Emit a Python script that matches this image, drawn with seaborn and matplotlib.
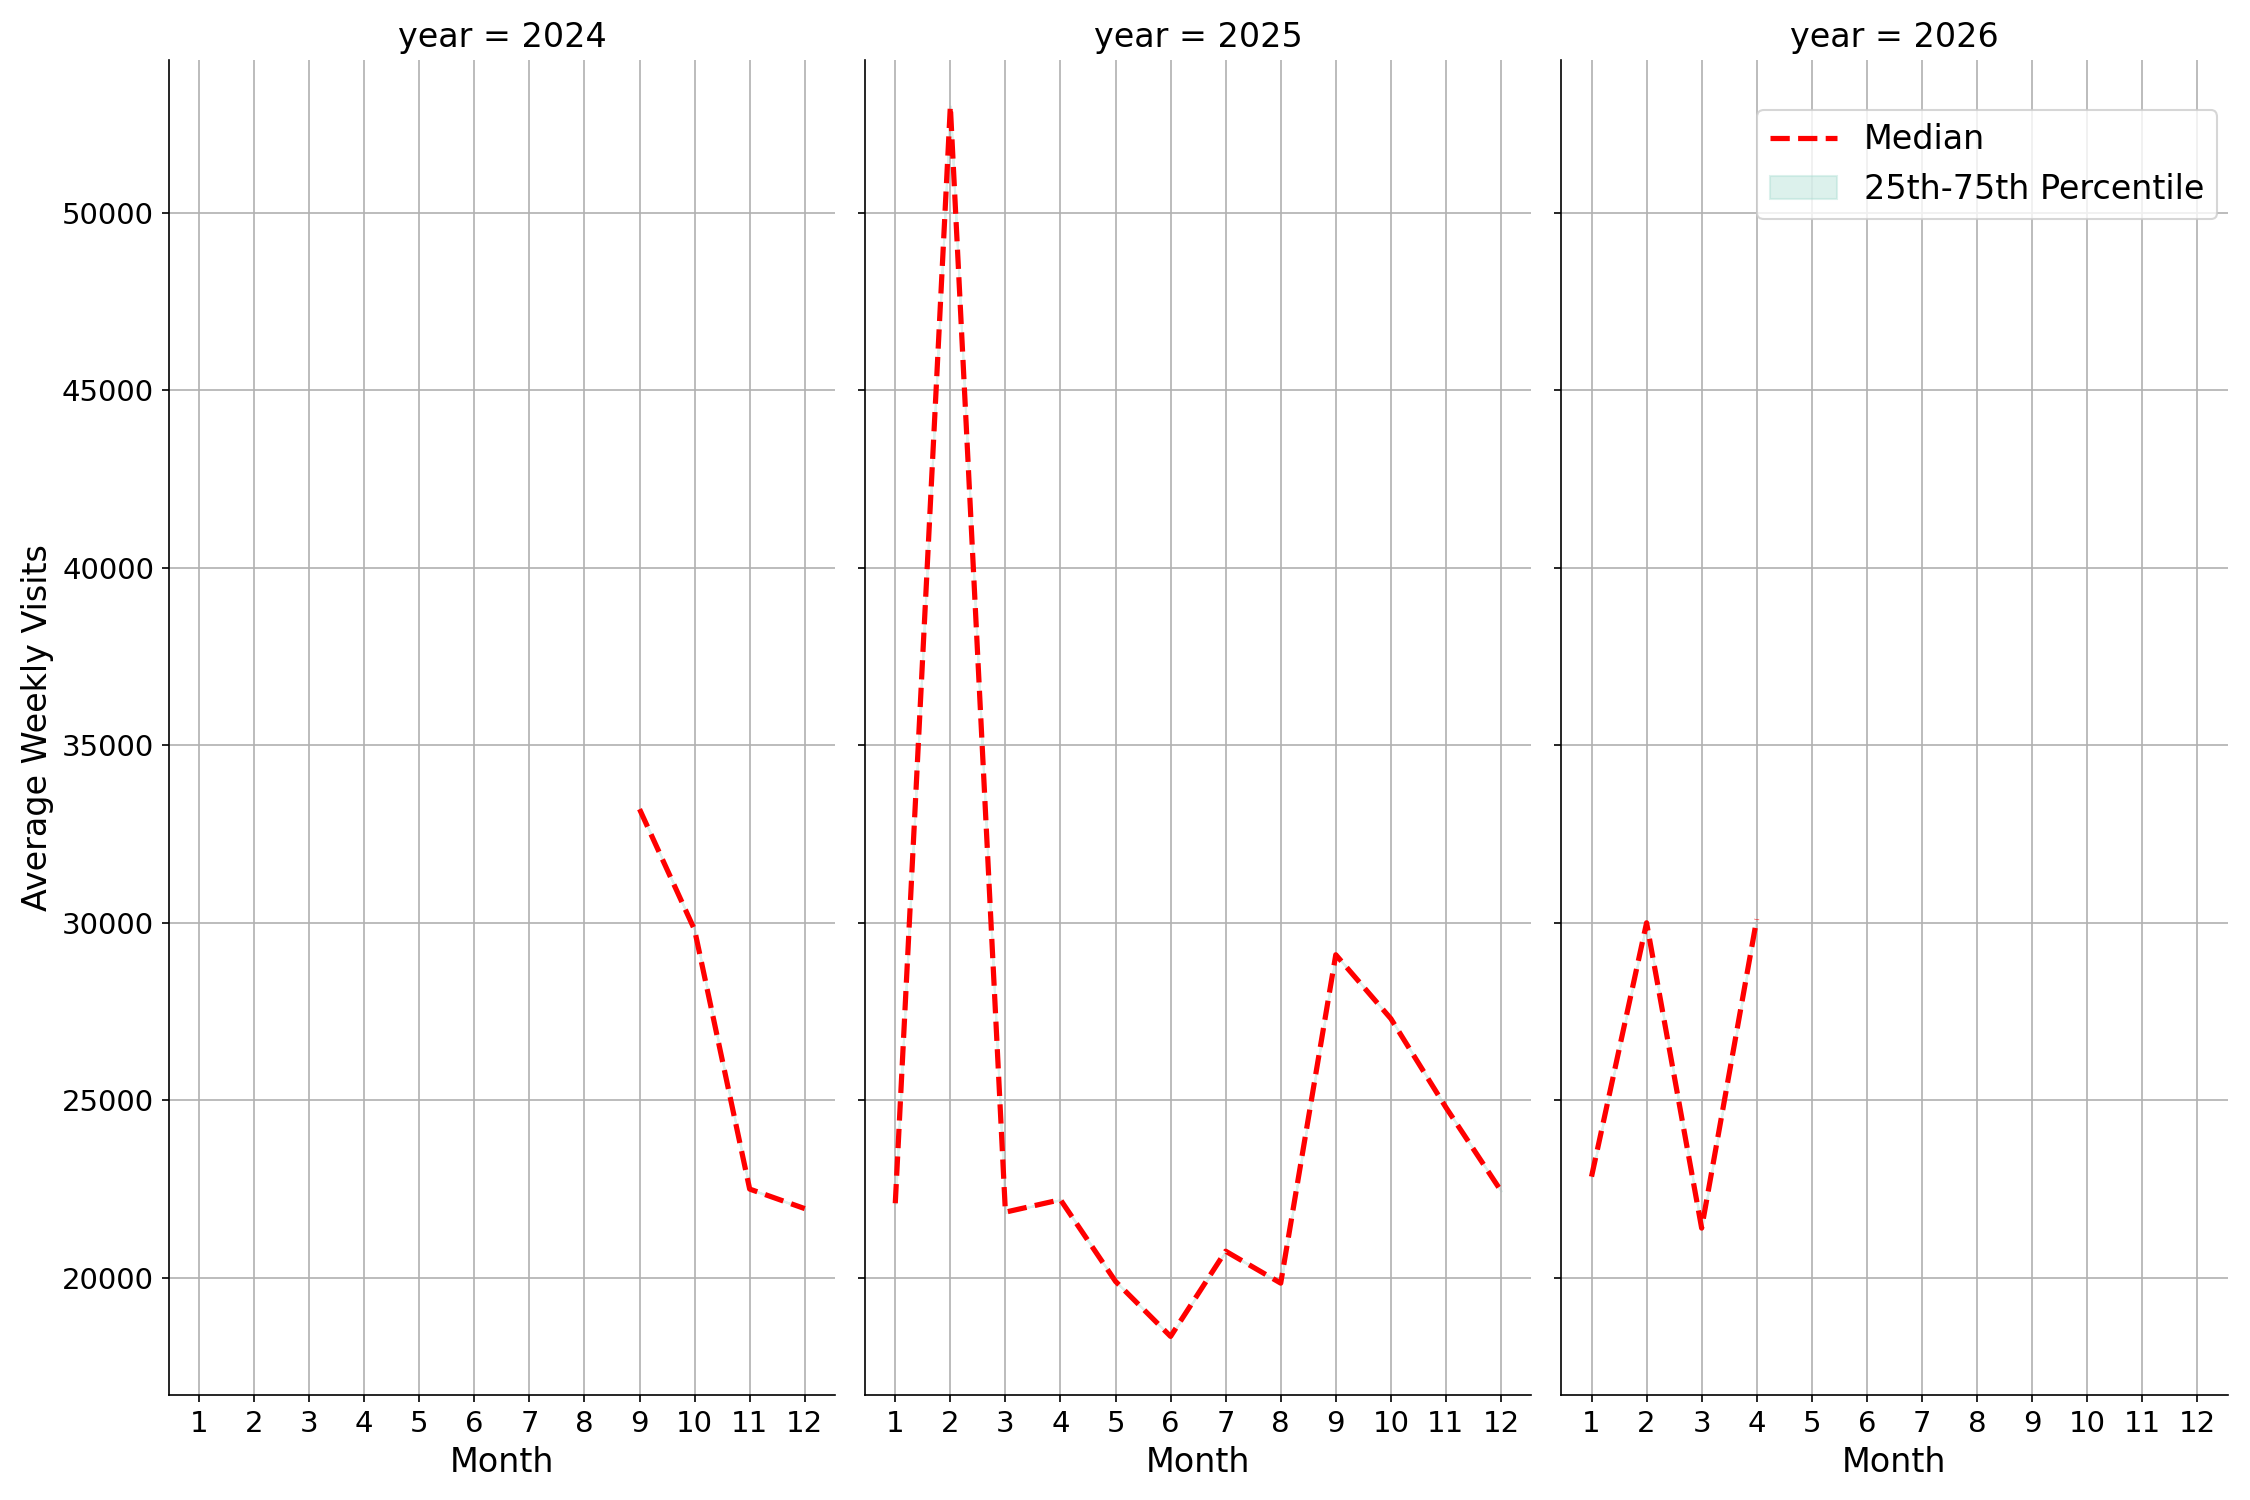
import numpy as np
import pandas as pd
import matplotlib
matplotlib.use("Agg")
import matplotlib.pyplot as plt
import seaborn as sns

years = [2024] * 4 + [2025] * 12 + [2026] * 4
months = [9, 10, 11, 12] + list(range(1, 13)) + [1, 2, 3, 4]
median_visits = [33200, 29800, 22500, 21950,
                 22100, 53000, 21850, 22200, 19900, 18350, 20750, 19850,
                 29100, 27300, 24800, 22450,
                 22850, 30000, 21400, 30100]

df = pd.DataFrame({"year": years, "month": months, "median": median_visits})

plt.rcParams["font.size"] = 13
g = sns.FacetGrid(df, col="year", col_order=[2024, 2025, 2026], sharey=True,
                  height=9.6, aspect=0.49)


def draw(data, **kw):
    ax = plt.gca()
    ax.plot(data["month"], data["median"], color="red", linestyle="--",
            linewidth=2.5, label="Median")
    ax.fill_between(data["month"], data["median"], data["median"],
                    color="#a8dcd1", alpha=0.4, label="25th-75th Percentile")


g.map_dataframe(draw)
g.set_titles("year = {col_name}", size=16)
g.set_axis_labels("Month", "Average Weekly Visits", fontsize=16)
for ax in g.axes.flat:
    ax.set_xticks(range(1, 13))
    ax.set_xlim(0.45, 12.55)
    ax.set_ylim(16700, 54300)
    ax.grid(True, color="#b0b0b0")
    ax.tick_params(labelsize=14)
g.axes.flat[-1].legend(loc="upper right", fontsize=16, bbox_to_anchor=(1.01, 0.975))
g.figure.subplots_adjust(left=0.075, right=0.99, bottom=0.07, top=0.96, wspace=0.045)
g.figure.set_size_inches(15, 10)
g.figure.savefig("out.png", dpi=150)
